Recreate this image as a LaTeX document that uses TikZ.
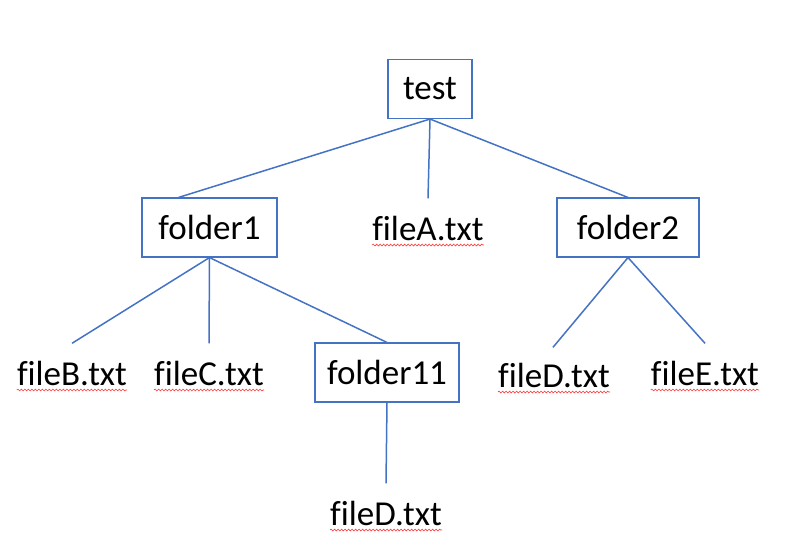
\documentclass[tikz,border=0pt]{standalone}
\usepackage{fontspec}
\setmainfont{Carlito}[Ligatures=NoCommon]
\usetikzlibrary{decorations.pathmorphing}
\definecolor{officeblue}{HTML}{4472C4}
\tikzset{
  folder/.style={draw=officeblue,line width=1.1pt,minimum height=59pt,inner xsep=0pt,font=\fontsize{35}{42}\selectfont},
  file/.style={minimum height=59pt,inner xsep=0pt,font=\fontsize{35}{42}\selectfont},
  link/.style={officeblue,line width=1.5pt},
  squiggle/.style={red!80,line width=0.6pt,decorate,decoration={snake,amplitude=0.9pt,segment length=3.5pt}}
}
\begin{document}
\begin{tikzpicture}[x=1pt,y=-1pt]
  \useasboundingbox (0,0) rectangle (792,543);
  % folders
  \node[folder,minimum width=84pt] (test) at (430,89) {test};
  \node[folder,minimum width=135pt] (folder1) at (209.5,227.5) {folder1};
  \node[folder,minimum width=142pt] (folder2) at (628,227.5) {folder2};
  \node[folder,minimum width=144pt] (folder11) at (387,372.5) {folder11};
  % files
  \node[file] (fileA) at (428,228) {fileA.txt};
  \node[file] (fileB) at (72,373) {fileB.txt};
  \node[file] (fileC) at (209,373) {fileC.txt};
  \node[file] (fileD) at (554,375) {fileD.txt};
  \node[file] (fileE) at (705,373) {fileE.txt};
  \node[file] (fileDsub) at (386,513) {fileD.txt};
  % links
  \draw[link] (test.south) -- ([xshift=-31pt]folder1.north);
  \draw[link] (test.south) -- (fileA.north);
  \draw[link] (test.south) -- (folder2.north);
  \draw[link] (folder1.south) -- (fileB.north);
  \draw[link] (folder1.south) -- (fileC.north);
  \draw[link] (folder1.south) -- (folder11.north);
  \draw[link] (folder2.south) -- ([xshift=-1pt,yshift=-2pt]fileD.north);
  \draw[link] (folder2.south) -- (fileE.north);
  \draw[link] (folder11.south) -- (fileDsub.north);
  % spell check marks
  \foreach \f in {fileA,fileB,fileC,fileD,fileE,fileDsub}{
    \draw[squiggle] ([yshift=-5pt]\f.base west) -- ([yshift=-5pt]\f.base east);
  }
\end{tikzpicture}
\end{document}
